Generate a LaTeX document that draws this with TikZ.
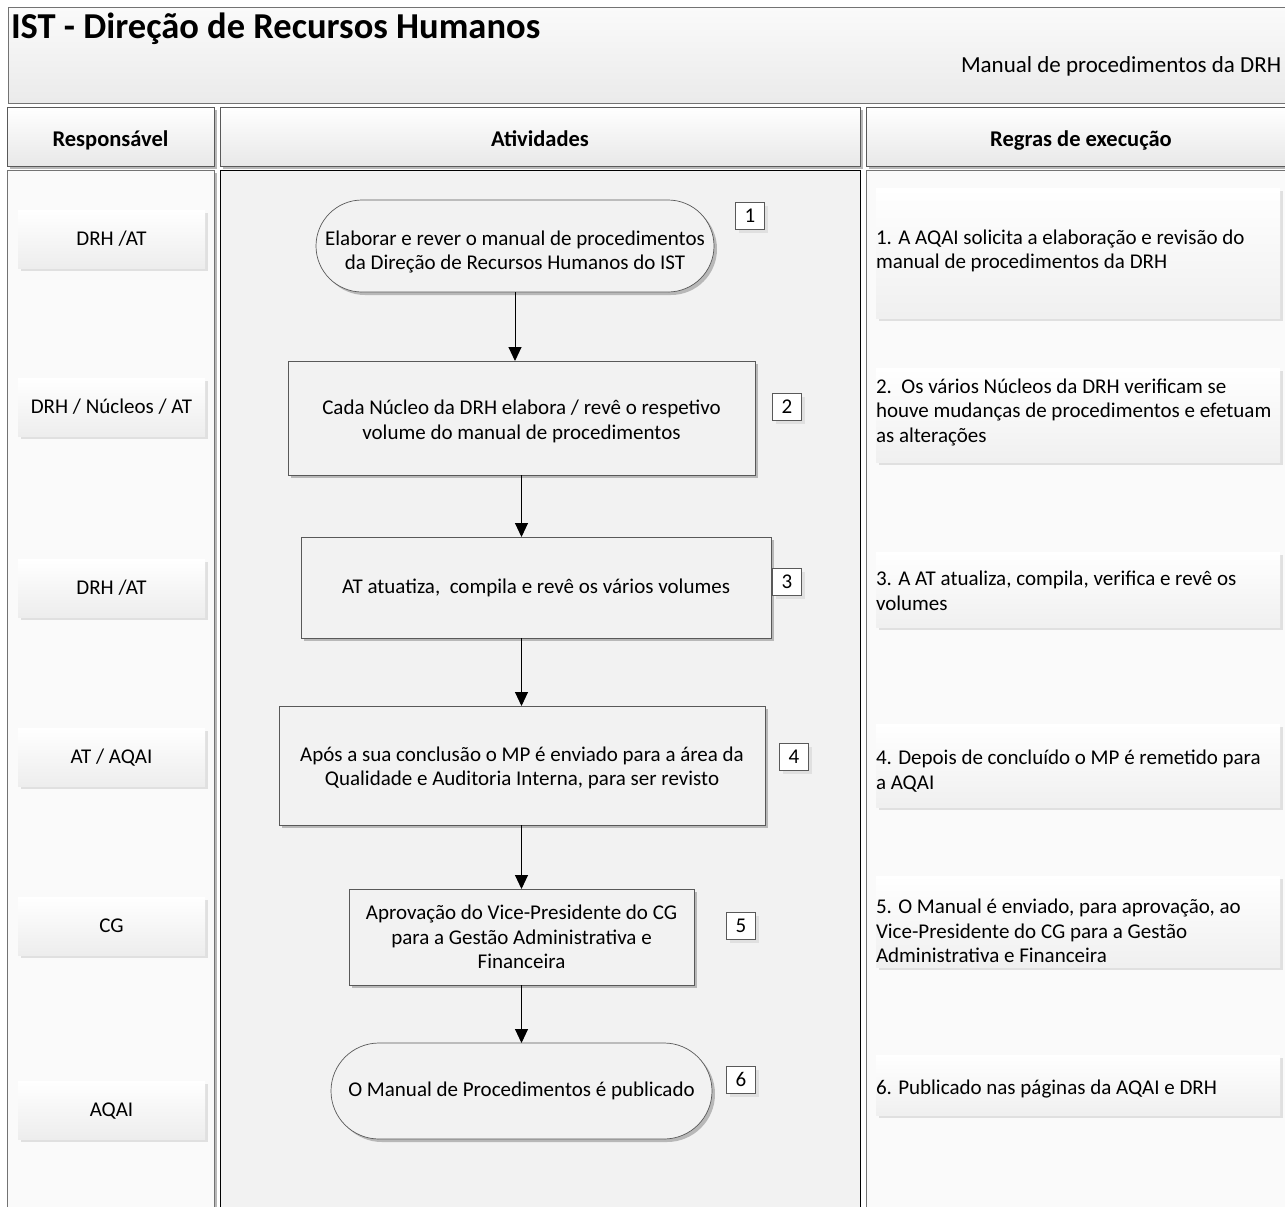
\documentclass[tikz,border=0pt]{standalone}
\usepackage{fontspec}
\setmainfont{Carlito}
\usetikzlibrary{shadows,arrows.meta}
\definecolor{bodyfill}{HTML}{FAFAFA}
\definecolor{actfill}{HTML}{F2F2F2}
\definecolor{edge}{HTML}{595959}
\begin{document}
\begin{tikzpicture}[x=1pt,y=-1pt,
  every node/.style={font=\fontsize{21}{24.5}\selectfont, inner sep=0pt, outer sep=0pt},
  sh/.style={drop shadow={shadow xshift=3pt,shadow yshift=-3pt,fill=black!28,opacity=1}},
  lightsh/.style={drop shadow={shadow xshift=3pt,shadow yshift=-3pt,fill=black!12,opacity=1}},
  hdr/.style={draw=edge, line width=1pt, top color=white, bottom color=black!9, sh, anchor=north west,
     font=\fontsize{22.5}{26}\selectfont\bfseries, text height=19pt, text depth=0pt},
  resp/.style={top color=white, bottom color=black!7, lightsh, minimum width=187, minimum height=58,
     text height=15pt, text depth=3pt},
  rule/.style={top color=white, bottom color=black!6, lightsh, minimum width=404, anchor=north west},
  ruletxt/.style={anchor=west, align=left},
  act/.style={draw=edge, line width=0.7pt, fill=actfill, sh, align=center},
  term/.style={act, rounded corners=46},
  num/.style={draw=edge, line width=0.6pt, fill=white, lightsh, minimum width=29, minimum height=27,
     text height=14pt, text depth=1pt},
  flow/.style={line width=1pt, -{Triangle[length=14pt,width=13pt]}}
]
\useasboundingbox (0,0) rectangle (1285,1207);
\clip (0,0) rectangle (1285,1207);
\fill[white] (0,0) rectangle (1285,1207);

% title
\node[draw=black!55, line width=1pt, top color=black!2, bottom color=black!8, anchor=north west,
  minimum width=1290, minimum height=95] (title) at (8,8) {};
\node[anchor=base west, font=\fontsize{36.5}{42}\selectfont\bfseries] (ttl) at (11,38.5) {IST - Direção de Recursos Humanos};
\node[anchor=base west, font=\fontsize{23}{27}\selectfont] (sub) at (961,73) {Manual de procedimentos da DRH};

% headers
\node[hdr, minimum width=207, minimum height=59] (h1) at (7,107) {Responsável};
\node[hdr, minimum width=640, minimum height=59] (h2) at (220,107) {Atividades};
\node[hdr, minimum width=430, minimum height=59] (h3) at (866,107) {Regras de execução};

% column bodies
\node[draw=black!55, line width=1pt, fill=bodyfill, sh, anchor=north west, minimum width=207, minimum height=1045] (c1) at (7,170) {};
\node[draw=black, line width=1pt, fill=actfill, anchor=north west, minimum width=640, minimum height=1045] (c2) at (220,170) {};
\node[draw=black!55, line width=1pt, fill=bodyfill, anchor=north west, minimum width=430, minimum height=1045] (c3) at (866,170) {};

% responsaveis
\node[resp] (r1) at (111.5,239) {DRH /AT};
\node[resp] (r2) at (111.5,407) {DRH / Núcleos / AT};
\node[resp] (r3) at (111.5,588) {DRH /AT};
\node[resp] (r4) at (111.5,757) {AT / AQAI};
\node[resp] (r5) at (111.5,926) {CG};
\node[resp] (r6) at (111.5,1110) {AQAI};

% activities
\node[term, minimum width=398, minimum height=92] (a1) at (515,246)
  {\rule{0pt}{27pt}Elaborar e rever o manual de procedimentos\\da Direção de Recursos Humanos do IST};
\node[act, minimum width=467, minimum height=114] (a2) at (521.5,418)
  {\rule{0pt}{21pt}Cada Núcleo da DRH elabora / revê o respetivo\\volume do manual de procedimentos};
\node[act, minimum width=470, minimum height=101] (a3) at (536,587.5)
  {AT atuatiza,\ \ compila e revê os vários volumes};
\node[act, minimum width=486, minimum height=119] (a4) at (522,765.5)
  {\rule{0pt}{19pt}Após a sua conclusão o MP é enviado para a área da\\Qualidade e Auditoria Interna, para ser revisto};
\node[act, minimum width=345, minimum height=96] (a5) at (521.5,937)
  {Aprovação do Vice-Presidente do CG\\para a Gestão Administrativa e\\Financeira};
\node[term, minimum width=381, minimum height=96, rounded corners=48] (a6) at (521.5,1091)
  {O Manual de Procedimentos é publicado};

% numbers
\node[num] (n1) at (750,216) {1};
\node[num] (n2) at (787,407) {2};
\node[num] (n3) at (787,582) {3};
\node[num] (n4) at (794,757) {4};
\node[num] (n5) at (741,926) {5};
\node[num] (n6) at (741,1080) {6};

% flow
\draw[flow] (a1.south) -- (a1.south |- a2.north);
\draw[flow] (a2.south) -- (a2.south |- a3.north);
\draw[flow] (a3.south -| a2.south) -- (a2.south |- a4.north);
\draw[flow] (a4.south -| a2.south) -- (a2.south |- a5.north);
\draw[flow] (a5.south) -- (a5.south |- a6.north);

% rules
\node[rule, minimum height=130] (g1) at (876,188) {};
\node[ruletxt] (g1t) at (876,251) {1. A AQAI solicita a elaboração e revisão do\\manual de procedimentos da DRH};
\node[rule, minimum height=94] (g2) at (876,368) {};
\node[ruletxt] (g2t) at (876,412) {2.\ \ Os vários Núcleos da DRH verificam se\\houve mudanças de procedimentos e efetuam\\as alterações};
\node[rule, minimum height=75] (g3) at (876,552) {};
\node[ruletxt] (g3t) at (876,591) {3. A AT atualiza, compila, verifica e revê os\\volumes};
\node[rule, minimum height=83] (g4) at (876,724) {};
\node[ruletxt] (g4t) at (876,771) {4. Depois de concluído o MP é remetido para\\a AQAI};
\node[rule, minimum height=91] (g5) at (876,876) {};
\node[ruletxt] (g5t) at (876,931) {5. O Manual é enviado, para aprovação, ao\\Vice-Presidente do CG para a Gestão\\Administrativa e Financeira};
\node[rule, minimum height=60] (g6) at (876,1055) {};
\node[ruletxt] (g6t) at (876,1089) {6. Publicado nas páginas da AQAI e DRH};
\end{tikzpicture}
\end{document}
